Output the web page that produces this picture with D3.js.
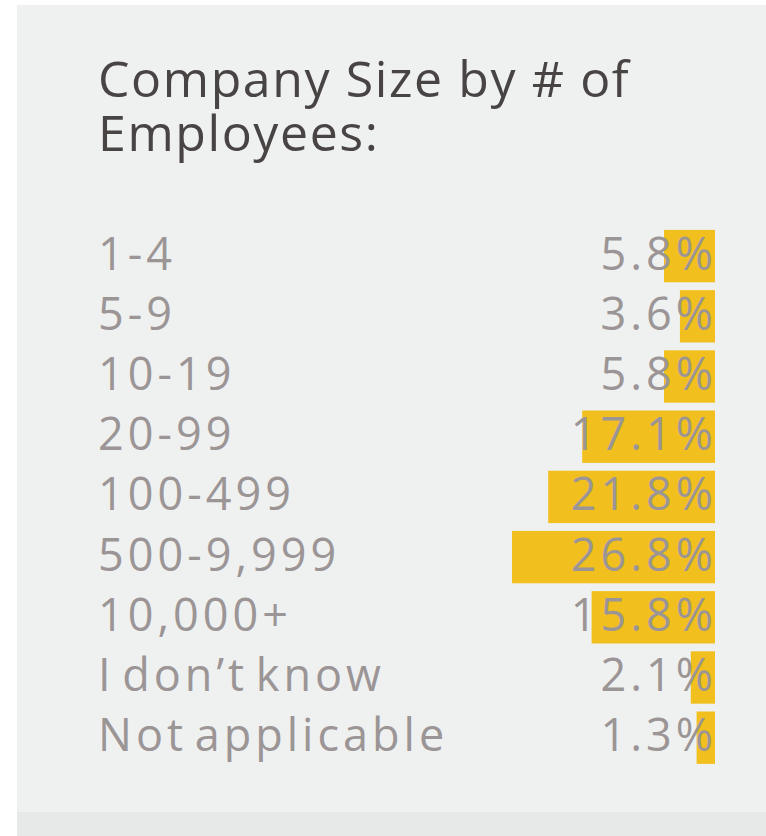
<!DOCTYPE html>
<html>
<head>
<meta charset="utf-8">
<script src="https://cdn.jsdelivr.net/npm/d3@7"></script>
<style>
    html, body { margin: 0; padding: 0; background: #ffffff; }
    svg { display: block; }
</style>
</head>
<body>
<div id="chart"></div>
<script>
const titleLines = ["Company Size by # of", "Employees:"];
const categories = ["1-4", "5-9", "10-19", "20-99", "100-499", "500-9,999", "10,000+", "I don\u2019t know", "Not applicable"];
const values = [5.8, 3.6, 5.8, 17.1, 21.8, 26.8, 15.8, 2.1, 1.3];

const width = 766;
const height = 836;
const right = 715;   // bars end here

const svg = d3.select("#chart").append("svg")
    .attr("width", width)
    .attr("height", height)
    .style("font-family", "'Open Sans', 'Noto Sans', sans-serif");

// grey card + darker strip at the bottom
svg.append("rect")
    .attr("x", 17).attr("y", 5)
    .attr("width", width - 17).attr("height", height - 5)
    .attr("fill", "#eff0f0");
svg.append("rect")
    .attr("x", 17).attr("y", 812)
    .attr("width", width - 17).attr("height", height - 812)
    .attr("fill", "#e7e8e8");

svg.append("g")
    .selectAll("text")
    .data(titleLines)
    .join("text")
    .attr("x", 98)
    .attr("y", (d, i) => 97 + i * 54)
    .attr("fill", "#484444")
    .style("font-size", "50px")
    .style("letter-spacing", "1.6px")
    .text(d => d);

const y = d3.scaleBand()
    .domain(categories)
    .range([226, 226 + categories.length * 60.2])
    .paddingInner(0.13)
    .paddingOuter(0.065);

// bars have a little base length so the small ones still show
const x = d3.scaleLinear()
    .domain([0, d3.max(values)])
    .range([9, 203]);

const rows = svg.append("g")
    .selectAll("g")
    .data(categories.map((c, i) => ({ cat: c, value: values[i] })))
    .join("g")
    .attr("transform", d => `translate(0,${y(d.cat)})`);

rows.append("rect")
    .attr("x", d => right - x(d.value))
    .attr("width", d => x(d.value))
    .attr("height", y.bandwidth())
    .attr("fill", "#f2c01e");

rows.append("text")
    .attr("x", 98)
    .attr("y", y.bandwidth() / 2)
    .attr("dy", "0.3em")
    .attr("fill", "#9b9595")
    .style("font-size", "45px")
    .style("letter-spacing", "4px")
    .style("word-spacing", "-8px")
    .text(d => d.cat);

rows.append("text")
    .attr("x", right + 2)
    .attr("y", y.bandwidth() / 2)
    .attr("dy", "0.3em")
    .attr("text-anchor", "end")
    .attr("fill", "#9b9595")
    .style("font-size", "45px")
    .style("letter-spacing", "4px")
    .text(d => d.value.toFixed(1) + "%");
</script>
</body>
</html>
